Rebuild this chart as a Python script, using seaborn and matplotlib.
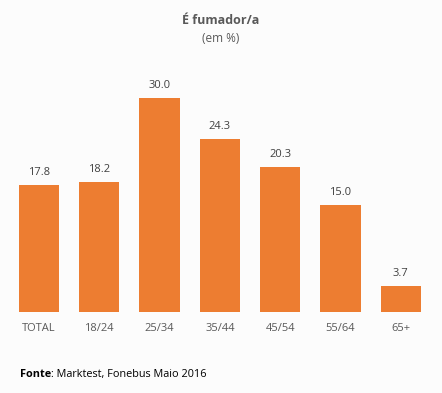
import matplotlib
matplotlib.use("Agg")
import matplotlib.pyplot as plt
import seaborn as sns
import pandas as pd

# Data
categories = ["TOTAL", "18/24", "25/34", "35/44", "45/54", "55/64", "65+"]
values = [17.8, 18.2, 30.0, 24.3, 20.3, 15.0, 3.7]

bar_color = "#ED7D31"
bg_color = "#FCFCFC"

sns.set_theme(style="white")
plt.rcParams["font.family"] = ["Open Sans", "DejaVu Sans"]

df = pd.DataFrame({"grupo": categories, "valor": values})

fig = plt.figure(figsize=(4.42, 3.93), dpi=100, facecolor=bg_color)
ax = fig.add_axes([0.02, 0.206, 0.955, 0.641])
ax.set_facecolor(bg_color)

sns.barplot(data=df, x="grupo", y="valor", color=bar_color, width=0.67,
            saturation=1, linewidth=0, ax=ax)

for i, v in enumerate(values):
    ax.annotate(f"{v:.1f}", (i, v), xytext=(0, 5), textcoords="offset points",
                ha="center", va="bottom", fontsize=8, color="#404040")

ax.set_ylim(0, 35.3)
ax.set_xlim(-0.5, len(categories) - 0.5)
ax.set_yticks([])
ax.set_xlabel("")
ax.set_ylabel("")
ax.tick_params(axis="x", length=0, labelsize=8, labelcolor="#595959", pad=8)
for s in ax.spines.values():
    s.set_visible(False)

fig.text(0.5, 0.947, "É fumador/a", ha="center", va="center",
         fontsize=9, fontweight="bold", color="#595959")
fig.text(0.5, 0.903, "(em %)", ha="center", va="center",
         fontsize=8.5, color="#595959")

# footer: bold "Fonte" followed by the rest of the source line
src = fig.text(0.045, 0.046, "Fonte", ha="left", va="center",
               fontsize=7.8, fontweight="bold", color="#000000")
ax.annotate(": Marktest, Fonebus Maio 2016", xy=(1, 0.5), xycoords=src,
            ha="left", va="center", fontsize=7.8, color="#000000",
            annotation_clip=False)

fig.savefig("out.png", dpi=100, facecolor=bg_color)
